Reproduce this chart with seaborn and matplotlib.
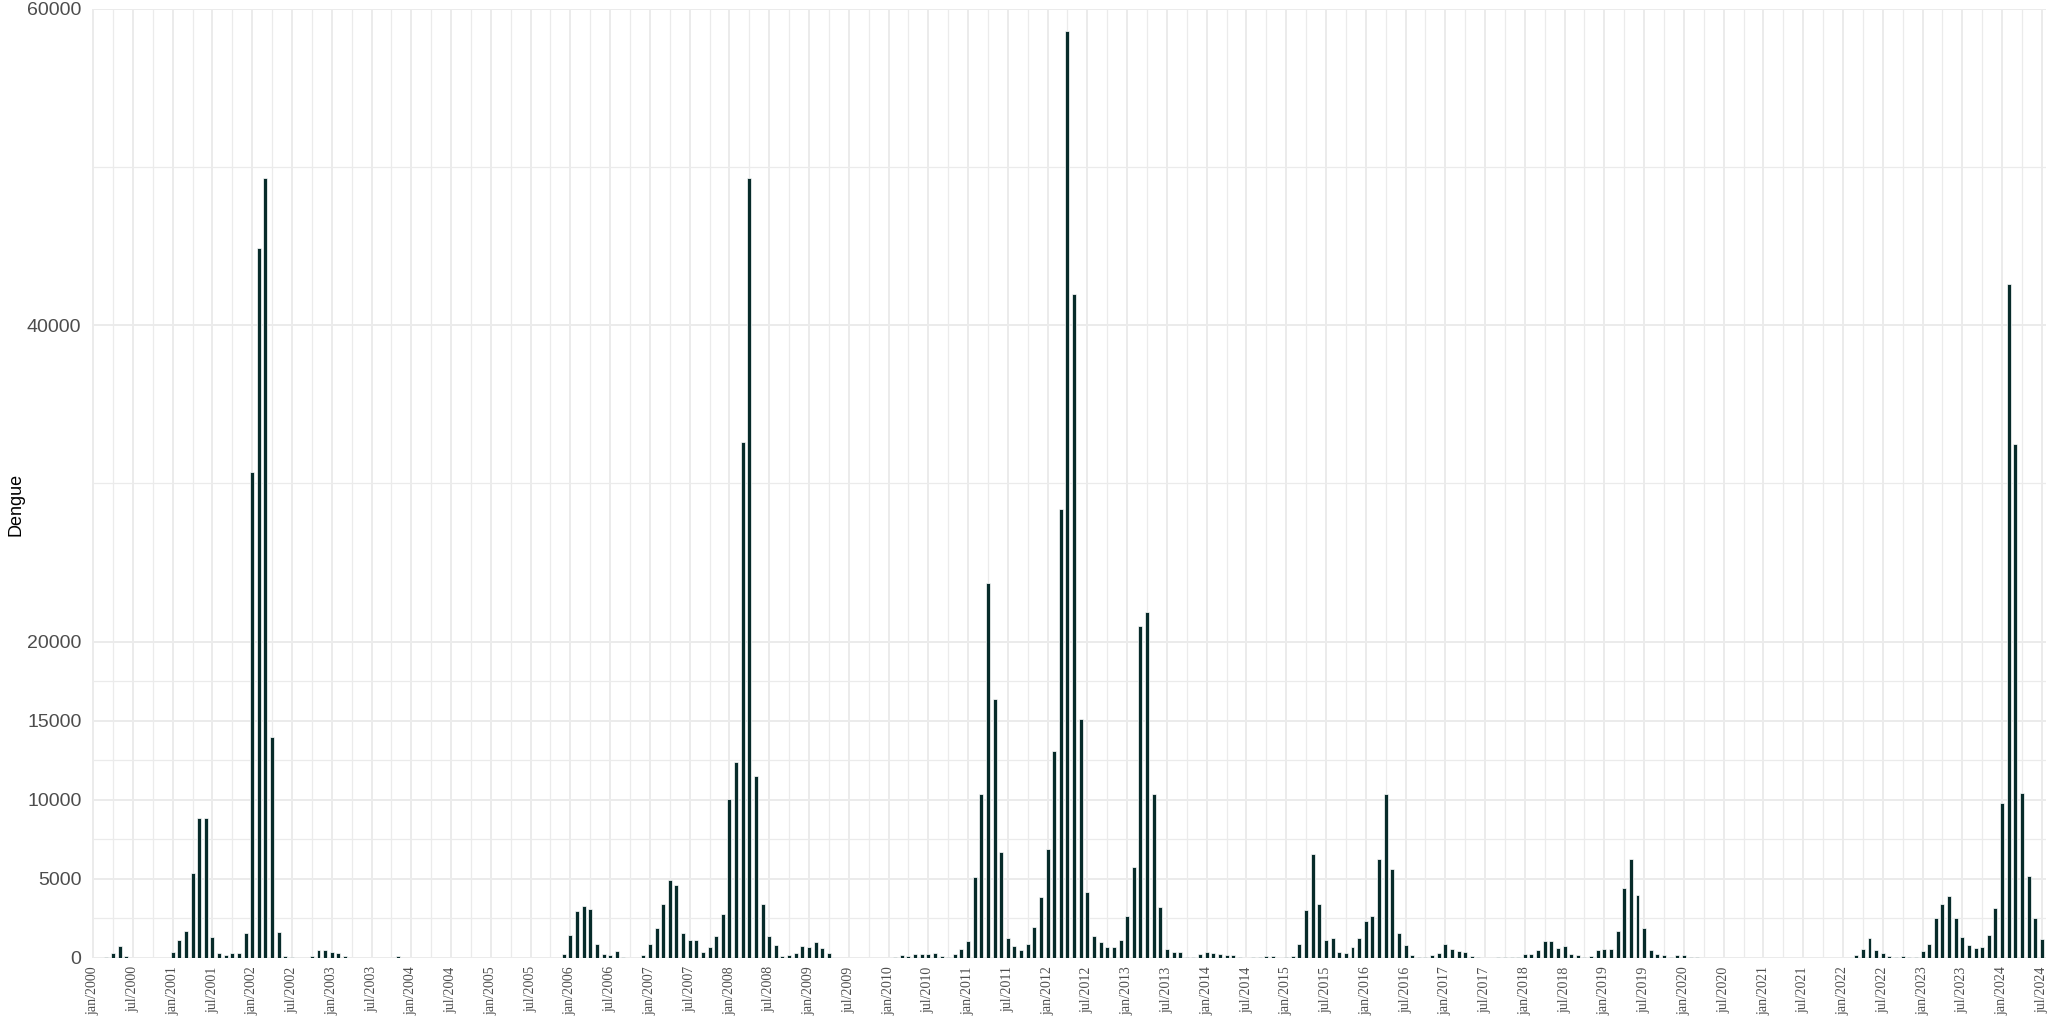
import numpy as np
import pandas as pd
import seaborn as sns
import matplotlib.pyplot as plt
from matplotlib.ticker import FixedLocator

# casos mensais de dengue, jan/2000 a jul/2024
casos_2000 = [0, 0, 90, 310, 730, 140, 0, 0, 0, 0, 0, 0]
casos_2001 = [370, 1130, 1720, 5390, 8870, 8870, 1320, 310, 160, 300, 300, 1560]
casos_2002 = [30700, 44900, 49300, 14000, 1650, 100, 50, 0, 0, 140, 510, 510]
casos_2003 = [380, 300, 130, 0, 0, 0, 0, 0, 0, 0, 130, 0]
casos_2004 = [0, 0, 0, 0, 0, 0, 0, 0, 0, 0, 0, 0]
casos_2005 = [0, 0, 0, 0, 0, 0, 0, 0, 0, 0, 0, 255]
casos_2006 = [1460, 2970, 3260, 3100, 890, 275, 170, 425, 40, 0, 20, 190]
casos_2007 = [890, 1890, 3390, 4900, 4600, 1570, 1120, 1120, 360, 720, 1360, 2760]
casos_2008 = [10050, 12380, 32600, 49300, 11530, 3390, 1420, 830, 130, 170, 340, 785]
casos_2009 = [700, 1040, 615, 300, 0, 0, 0, 0, 0, 0, 0, 0]
casos_2010 = [0, 65, 190, 150, 235, 235, 235, 300, 130, 65, 235, 570]
casos_2011 = [1100, 5090, 10390, 23700, 16400, 6720, 1250, 785, 510, 910, 1950, 3880]
casos_2012 = [6910, 13080, 28400, 58600, 42000, 15100, 4180, 1380, 1020, 700, 700, 1120]
casos_2013 = [2630, 5745, 21000, 21900, 10350, 3240, 570, 360, 360, 85, 85, 275]
casos_2014 = [400, 320, 275, 170, 190, 85, 20, 85, 65, 105, 105, 20]
casos_2015 = [40, 105, 870, 3010, 6590, 3430, 1140, 1290, 380, 300, 720, 1290]
casos_2016 = [2310, 2670, 6250, 10350, 5600, 1570, 805, 190, 40, 65, 170, 300]
casos_2017 = [890, 590, 425, 360, 130, 40, 20, 10, 85, 85, 85, 85]
casos_2018 = [235, 235, 530, 1100, 1080, 615, 740, 255, 170, 65, 105, 510]
casos_2019 = [590, 570, 1720, 4430, 6230, 3990, 1870, 490, 255, 170, 65, 170]
casos_2020 = [210, 85, 65, 0, 0, 0, 0, 0, 0, 0, 0, 0]
casos_2021 = [0, 0, 0, 20, 20, 0, 0, 0, 0, 0, 0, 0]
casos_2022 = [0, 0, 210, 570, 1250, 510, 300, 130, 85, 130, 85, 60]
casos_2023 = [420, 890, 2500, 3410, 3920, 2560, 1310, 805, 615, 700, 1480, 3140]
casos_2024 = [9790, 42600, 32500, 10450, 5215, 2500, 1210]

y_ticks = [0, 5000, 10000, 15000, 20000, 40000, 60000]
y_minor = [2500, 7500, 12500, 17500, 30000, 50000]

def montar_dados():
    todos = (casos_2000 + casos_2001 + casos_2002 + casos_2003 + casos_2004 +
             casos_2005 + casos_2006 + casos_2007 + casos_2008 + casos_2009 +
             casos_2010 + casos_2011 + casos_2012 + casos_2013 + casos_2014 +
             casos_2015 + casos_2016 + casos_2017 + casos_2018 + casos_2019 +
             casos_2020 + casos_2021 + casos_2022 + casos_2023 + casos_2024)
    return pd.DataFrame({'mes': np.arange(len(todos)), 'casos': todos})

df = montar_dados()

sns.set_theme(style='white')
plt.rcParams['font.family'] = ['Liberation Sans', 'DejaVu Sans']

fig = plt.figure(figsize=(20.54, 10.18), dpi=100)
ax = fig.add_axes([0.04503, 0.05894, 0.9513, 0.93222])

sns.barplot(data=df, x='mes', y='casos', native_scale=True, color='#072b2a',
            saturation=1, width=0.6, edgecolor='white', linewidth=0.5,
            errorbar=None, ax=ax)

ax.set_xlim(-0.1, 294.7)
ax.set_ylim(0, 60000)

# eixo x: jan/jul de cada ano
x_pos = list(range(0, len(df), 6))
x_lab = []
for i in x_pos:
    ano = 2000 + i // 12
    x_lab.append(('jan/' if i % 12 == 0 else 'jul/') + str(ano))
ax.set_xticks(x_pos)
ax.set_xticklabels(x_lab, rotation=90, family=['Liberation Serif', 'DejaVu Serif'],
                   fontsize=10, color='#4d4d4d')
ax.xaxis.set_minor_locator(FixedLocator([p + 3 for p in x_pos[:-1]]))

ax.set_yticks(y_ticks)
ax.set_yticklabels([str(v) for v in y_ticks], fontsize=14, color='#4d4d4d')
ax.yaxis.set_minor_locator(FixedLocator(y_minor))

ax.tick_params(which='both', length=0)
ax.tick_params(axis='x', pad=6)
ax.tick_params(axis='y', pad=8)

ax.grid(which='major', color='#ebebeb', linewidth=1.4)
ax.grid(which='minor', color='#ebebeb', linewidth=0.9)
ax.set_axisbelow(True)
for s in ax.spines.values():
    s.set_visible(False)

ax.set_xlabel('')
ax.set_ylabel('')
fig.text(16 / 2054, 1 - 504 / 1018, 'Dengue', rotation=90, ha='center', va='center',
         fontsize=13, color='black')

fig.savefig('out.png', dpi=100)
